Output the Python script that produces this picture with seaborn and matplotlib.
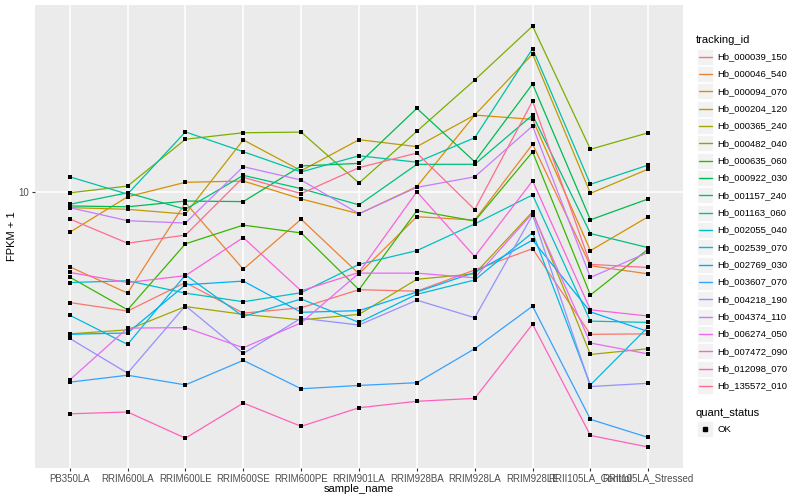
import pandas as pd
import seaborn as sns
import matplotlib.pyplot as plt
from matplotlib.lines import Line2D
from matplotlib.patches import Rectangle

sample_names = ['PB350LA', 'RRIM600LA', 'RRIM600LE', 'RRIM600SE', 'RRIM600PE',
                'RRIM901LA', 'RRIM928BA', 'RRIM928LA', 'RRIM928LE',
                'RRII105LA_Control', 'RRII105LA_Stressed']

tracking_ids = ['Hb_000039_150', 'Hb_000046_540', 'Hb_000094_070', 'Hb_000204_120',
                'Hb_000365_240', 'Hb_000482_040', 'Hb_000635_060', 'Hb_000922_030',
                'Hb_001157_240', 'Hb_001163_060', 'Hb_002055_040', 'Hb_002539_070',
                'Hb_002769_030', 'Hb_003607_070', 'Hb_004218_190', 'Hb_004374_110',
                'Hb_006274_050', 'Hb_007472_090', 'Hb_012098_070', 'Hb_135572_010']

# FPKM + 1 per gene, same order as sample_names
hb_000039_150 = [6.53, 6.32, 7.05, 6.27, 6.40, 6.86, 6.82, 7.40, 8.03, 5.78, 5.79]
hb_000046_540 = [7.49, 6.77, 9.58, 7.42, 8.99, 7.29, 9.08, 8.96, 11.99, 7.52, 7.29]
hb_000094_070 = [8.55, 9.80, 10.36, 10.41, 9.72, 9.18, 10.19, 13.41, 13.19, 7.97, 9.08]
hb_000204_120 = [9.40, 9.34, 9.17, 12.19, 10.83, 12.20, 11.88, 13.41, 16.95, 9.93, 10.90]
hb_000365_240 = [5.79, 5.88, 6.43, 6.24, 6.11, 6.24, 7.14, 7.29, 9.25, 5.35, 5.47]
hb_000482_040 = [9.95, 10.21, 12.22, 12.53, 12.56, 10.33, 12.60, 15.34, 18.87, 11.76, 12.53]
hb_000635_060 = [7.20, 6.35, 8.18, 8.79, 8.53, 6.86, 9.29, 8.93, 11.64, 6.72, 8.02]
hb_000922_030 = [9.46, 9.43, 9.64, 9.62, 11.03, 11.14, 13.76, 11.21, 15.11, 8.97, 9.72]
hb_001157_240 = [9.52, 9.95, 9.34, 10.64, 10.11, 9.50, 11.10, 11.10, 13.41, 8.51, 8.06]
hb_001163_060 = [10.58, 9.90, 12.57, 11.65, 10.78, 11.47, 11.19, 12.29, 17.30, 10.28, 11.07]
hb_002055_040 = [7.05, 7.10, 6.77, 6.55, 6.78, 7.56, 7.97, 8.83, 9.87, 6.08, 6.05]
hb_002539_070 = [6.22, 5.56, 7.26, 6.19, 6.62, 6.05, 6.74, 7.12, 8.54, 4.76, 5.95]
hb_002769_030 = [5.78, 5.81, 6.99, 7.09, 6.29, 6.33, 6.80, 7.33, 8.30, 6.30, 5.84]
hb_003607_070 = [4.81, 4.94, 4.76, 5.23, 4.69, 4.75, 4.80, 5.47, 6.44, 4.17, 3.89]
hb_004218_190 = [5.69, 4.98, 6.45, 5.37, 6.15, 5.99, 6.59, 6.16, 9.14, 4.73, 4.79]
hb_004374_110 = [9.40, 8.94, 8.86, 11.00, 10.45, 9.18, 10.16, 10.58, 12.86, 7.19, 7.92]
hb_006274_050 = [4.85, 5.92, 5.93, 5.49, 6.04, 7.31, 7.31, 7.18, 9.20, 5.59, 5.36]
hb_007472_090 = [7.33, 7.05, 7.24, 8.38, 6.83, 7.33, 9.99, 7.79, 10.42, 6.35, 6.20]
hb_012098_070 = [4.26, 4.29, 3.88, 4.44, 4.06, 4.36, 4.47, 4.52, 6.01, 3.92, 3.75]
hb_135572_010 = [9.00, 8.20, 8.46, 10.56, 9.92, 10.96, 11.59, 9.33, 14.15, 7.56, 7.47]

gene_values = [hb_000039_150, hb_000046_540, hb_000094_070, hb_000204_120,
               hb_000365_240, hb_000482_040, hb_000635_060, hb_000922_030,
               hb_001157_240, hb_001163_060, hb_002055_040, hb_002539_070,
               hb_002769_030, hb_003607_070, hb_004218_190, hb_004374_110,
               hb_006274_050, hb_007472_090, hb_012098_070, hb_135572_010]

# ggplot2 default hue palette for 20 levels
hue_colors = ['#F8766D', '#EA8331', '#D89000', '#C09B00', '#A3A500', '#7CAE00',
              '#39B600', '#00BB4E', '#00BF7D', '#00C1A3', '#00BFC4', '#00BAE0',
              '#00B0F6', '#35A2FF', '#9590FF', '#C77CFF', '#E76BF3', '#FA62DB',
              '#FF62BC', '#FF6C90']

W, H = 800, 500


def build_frame():
    rows = []
    for gene, values in zip(tracking_ids, gene_values):
        for sample, v in zip(sample_names, values):
            rows.append({'tracking_id': gene, 'sample_name': sample,
                         'fpkm': v, 'quant_status': 'OK'})
    df = pd.DataFrame(rows)
    df['sample_name'] = pd.Categorical(df['sample_name'], categories=sample_names, ordered=True)
    df['x'] = df['sample_name'].cat.codes
    return df


def fx(px):
    return px / W


def fy(py):
    return 1 - py / H


def draw_legend(fig):
    fig.text(fx(696), fy(40), 'tracking_id', fontsize=8, va='center', ha='left', color='black')
    row0, step = 56.7, 17.33
    for i, (gene, col) in enumerate(zip(tracking_ids, hue_colors)):
        yc = row0 + i * step
        fig.patches.append(Rectangle((fx(697), fy(yc + 8)), 16 / W, 16 / H,
                                     transform=fig.transFigure, facecolor='#F2F2F2',
                                     edgecolor='white', lw=0.6))
        fig.lines.append(Line2D([fx(698.5), fx(711.5)], [fy(yc), fy(yc)],
                                transform=fig.transFigure, color=col, lw=1.0))
        fig.text(fx(717), fy(yc), gene, fontsize=6.8, va='center', ha='left', color='black')
    fig.text(fx(696), fy(412.5), 'quant_status', fontsize=8, va='center', ha='left', color='black')
    fig.patches.append(Rectangle((fx(697), fy(437.3)), 16 / W, 16 / H,
                                 transform=fig.transFigure, facecolor='#F2F2F2',
                                 edgecolor='white', lw=0.6))
    fig.lines.append(Line2D([fx(705)], [fy(429.3)], transform=fig.transFigure,
                            marker='s', markersize=2.6, color='black', lw=0))
    fig.text(fx(717), fy(429.3), 'OK', fontsize=6.8, va='center', ha='left', color='black')


def main():
    sns.set_style('darkgrid', {'axes.facecolor': '#EBEBEB', 'grid.color': 'white'})
    plt.rcParams['font.family'] = ['Liberation Sans', 'DejaVu Sans']

    df = build_frame()
    fig = plt.figure(figsize=(8, 5), dpi=100)
    ax = fig.add_axes([fx(35), fy(468), (683 - 35) / W, (468 - 5) / H])

    sns.lineplot(data=df, x='x', y='fpkm', hue='tracking_id', hue_order=tracking_ids,
                 palette=hue_colors, estimator=None, sort=False, lw=0.9,
                 legend=False, ax=ax)
    sns.scatterplot(data=df, x='x', y='fpkm', color='black', marker='s', s=8,
                    linewidth=0, legend=False, ax=ax, zorder=5)

    ax.set_yscale('log')
    ax.set_ylim(3.46, 20.46)
    ax.set_xlim(-0.6, len(sample_names) - 0.4)
    ax.set_yticks([10])
    ax.set_yticklabels(['10'])
    ax.yaxis.set_minor_locator(plt.NullLocator())
    ax.set_xticks(range(len(sample_names)))
    ax.set_xticklabels(sample_names)
    ax.grid(True, which='major', color='white', lw=1.1)
    for s in ax.spines.values():
        s.set_visible(False)
    ax.tick_params(axis='both', length=2.5, width=0.8, color='#333333',
                   labelcolor='#4D4D4D', labelsize=7, pad=1.5, bottom=True, left=True)

    ax.set_xlabel('sample_name', fontsize=8, color='black', labelpad=0.5)
    ax.set_ylabel('FPKM + 1', fontsize=8, color='black', labelpad=1)

    draw_legend(fig)
    fig.savefig('out.png', dpi=100)
    plt.close('all')


if __name__ == '__main__':
    main()
